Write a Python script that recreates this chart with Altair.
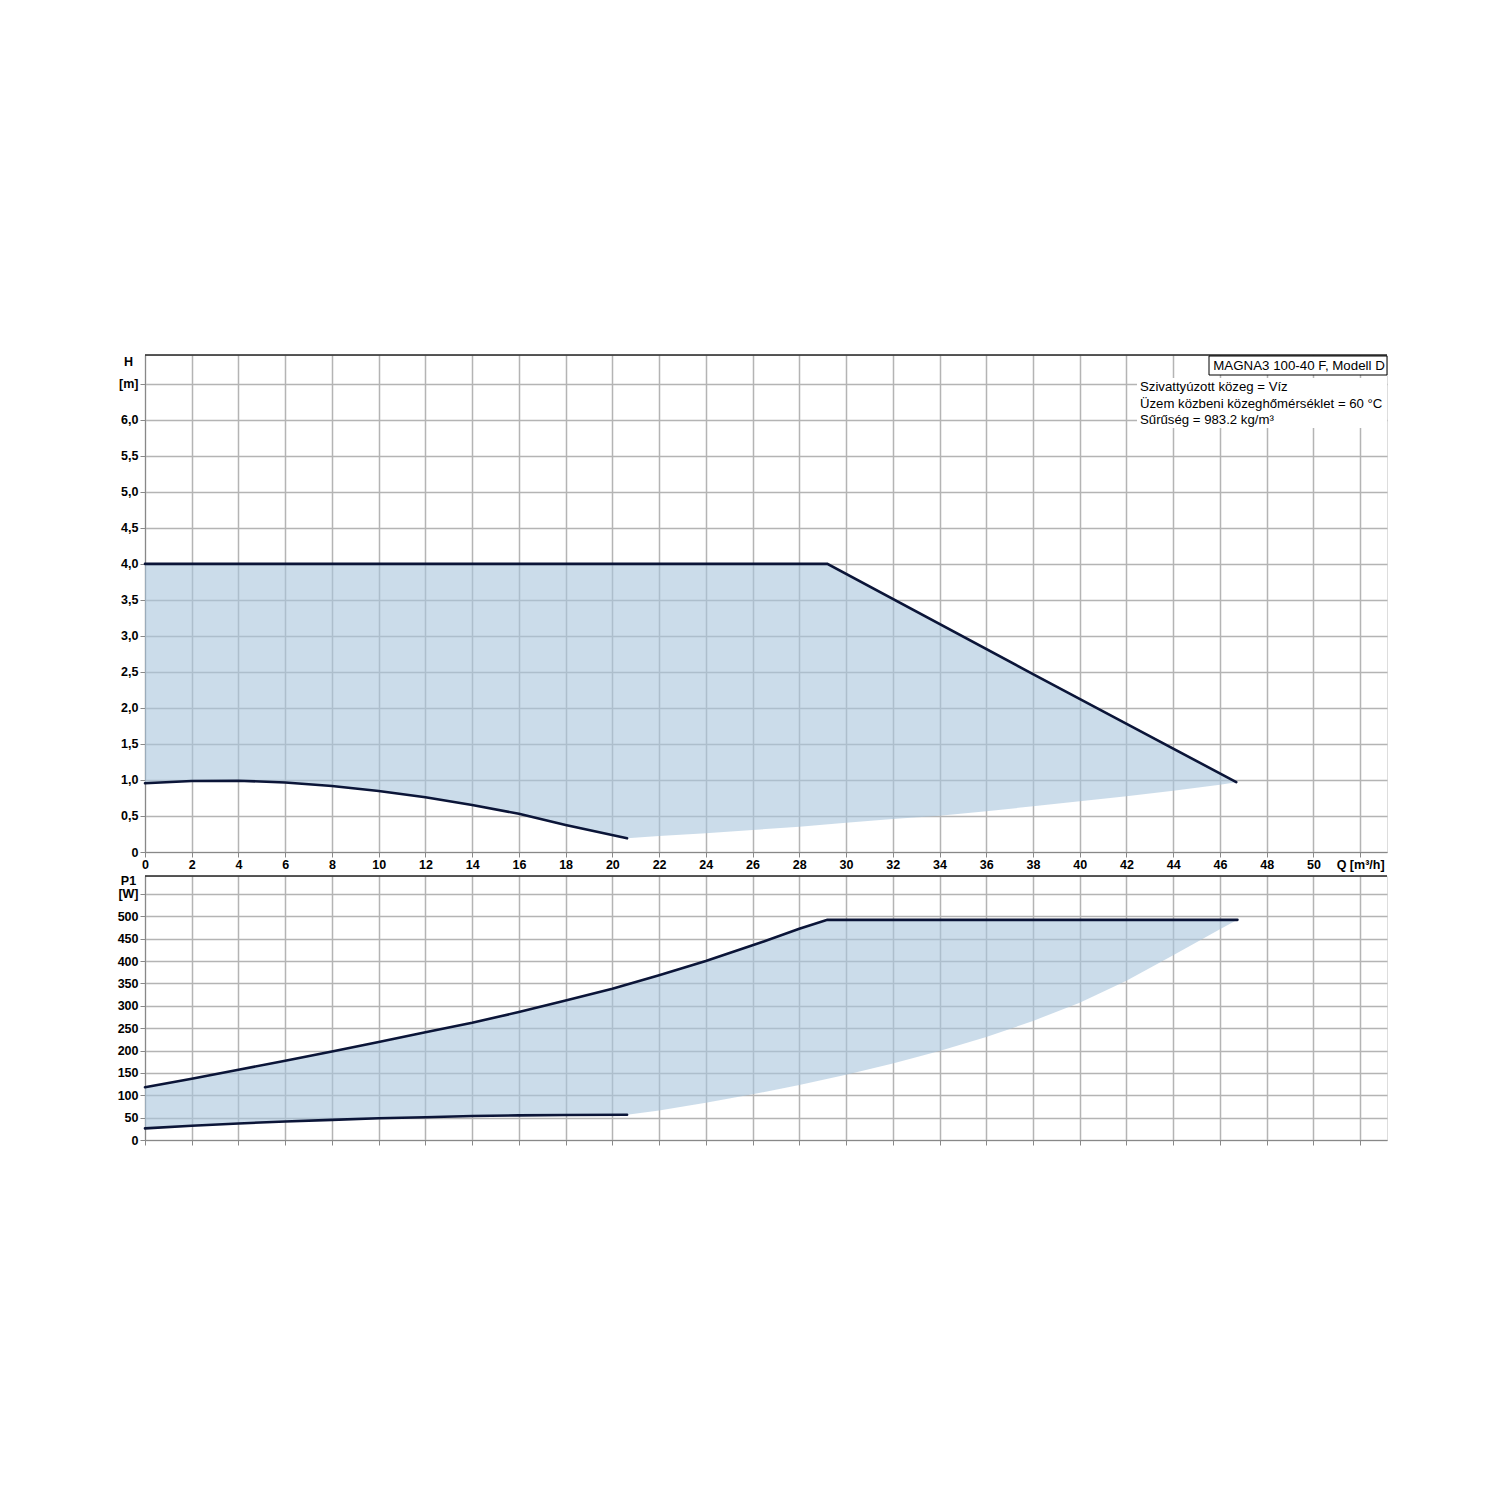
import altair as alt
import pandas as pd

# ---------------- data ----------------
Q_TICKS = list(range(0, 53, 2))
H_TICKS = [i / 2 for i in range(0, 14)]   # 0 .. 6.5
P_TICKS = list(range(0, 551, 50))         # 0 .. 550

# Top panel: head H [m] vs flow Q [m3/h]
h_max_q = [0, 29.2, 38.0, 46.7]
h_max_h = [4.0, 4.0, 2.47, 0.97]
h_min_q = [0, 2, 4, 6, 8, 10, 12, 14, 16, 18, 20.63]
h_min_h = [0.954, 0.986, 0.99, 0.965, 0.917, 0.847, 0.76, 0.653, 0.53, 0.375, 0.19]
h_edge_q = [20.63, 22, 24, 26, 28, 30, 32, 34, 36, 38, 40, 42, 44, 46, 46.7]
h_edge_h = [0.19, 0.222, 0.259, 0.306, 0.352, 0.407, 0.458, 0.505, 0.565, 0.635,
            0.705, 0.775, 0.85, 0.935, 0.97]

# Bottom panel: power P1 [W] vs flow Q [m3/h]
p_max_q = [0, 2, 4, 6, 8, 10, 12, 14, 16, 18, 20, 22, 24, 26, 28, 29.2, 46.75]
p_max_p = [118, 137, 157, 177, 198, 219, 241, 262, 286, 312, 338, 368, 400, 435, 472, 492, 492]
p_min_q = [0, 2, 4, 6, 8, 10, 12, 14, 16, 18, 20.63]
p_min_p = [26, 32, 37, 41.5, 45, 48.5, 51, 53.5, 55, 56, 56.5]
p_edge_q = [20.63, 22, 24, 26, 28, 30, 32, 34, 36, 38, 40, 42, 44, 46, 46.75]
p_edge_p = [56.5, 66, 83, 102, 123, 146, 171, 199, 230, 266, 307, 356, 413, 471, 492]

title_box = "MAGNA3 100-40 F, Modell D"
info_lines = [
    "Szivattyúzott közeg = Víz",
    "Üzem közbeni közeghőmérséklet = 60 °C",
    "Sűrűség = 983.2 kg/m³",
]

# ---------------- helpers ----------------
FONT = "Liberation Sans"
FILL = "#a9c4dc"
LINE = "#0b1538"
GRID = "#b4b4b4"
W = 1242
H_TOP = 497
H_BOT = 264
Q_DOMAIN = [0, 53.15]
LBL = 12.5


def polygon(upper_q, upper_v, lower_parts):
    qs, vs = list(upper_q), list(upper_v)
    for q, v in lower_parts:
        qs += list(reversed(q))
        vs += list(reversed(v))
    return pd.DataFrame({"Q": qs, "v": vs, "o": list(range(len(qs)))})


def lines_df(parts):
    rows = []
    for name, q, v in parts:
        for a, b in zip(q, v):
            rows.append({"Q": a, "v": b, "s": name})
    return pd.DataFrame(rows)


def x_enc(show_labels):
    return alt.X(
        "Q:Q",
        scale=alt.Scale(domain=Q_DOMAIN, nice=False, zero=False),
        axis=alt.Axis(
            values=Q_TICKS,
            labels=show_labels,
            labelExpr="datum.value == 52 ? 'Q [m³/h]' : datum.label",
            labelFlush=False,
            grid=True,
            gridColor=GRID,
            gridWidth=1.5,
            title=None,
            labelPadding=1,
            labelFont=FONT,
            labelFontSize=LBL,
            labelFontWeight="bold",
            labelColor="black",
        ),
    )


def y_enc(domain, ticks, title, unit_val, unit_txt, fmt_expr, title_y):
    return alt.Y(
        "v:Q",
        scale=alt.Scale(domain=domain, nice=False, zero=False),
        axis=alt.Axis(
            values=ticks,
            labelExpr=f"datum.value == {unit_val} ? '{unit_txt}' : {fmt_expr}",
            grid=True,
            gridColor=GRID,
            gridWidth=1.5,
            title=title,
            titleAngle=0,
            titleAlign="center",
            titleBaseline="middle",
            titleX=-17,
            titleY=title_y,
            titleFont=FONT,
            titleFontSize=LBL,
            titleFontWeight="bold",
            titleColor="black",
            labelPadding=2,
            labelFont=FONT,
            labelFontSize=LBL,
            labelFontWeight="bold",
            labelColor="black",
        ),
    )


one = pd.DataFrame({"a": [0]})


def panel(poly, lines, y, show_x_labels):
    xe = x_enc(show_x_labels)
    fill = alt.Chart(poly).mark_line(
        fill=FILL, fillOpacity=0.6, strokeOpacity=0, interpolate="linear"
    ).encode(x=xe, y=y, order="o:Q")
    curves = alt.Chart(lines).mark_line(
        color=LINE, strokeWidth=2.6, strokeCap="round"
    ).encode(x=xe, y=y, detail="s:N")
    top_border = alt.Chart(one).mark_rule(color="#222222", strokeWidth=1.5).encode(
        x=alt.value(0), x2=alt.value(W), y=alt.value(0)
    )
    return [fill, curves, top_border]


# ---------------- top panel ----------------
h_poly = polygon(h_max_q, h_max_h, [(h_edge_q, h_edge_h), (h_min_q, h_min_h)])
h_lines = lines_df([("max", h_max_q, h_max_h), ("min", h_min_q, h_min_h)])
y_top = y_enc([0, 6.9], H_TICKS, "H", 6.5, "[m]",
              "(datum.value == 0 ? '0' : replace(format(datum.value, '.1f'), '.', ','))", 6)
top_layers = panel(h_poly, h_lines, y_top, True)

info_bg = alt.Chart(one).mark_rect(color="white").encode(
    x=alt.value(992), x2=alt.value(W), y=alt.value(23), y2=alt.value(73)
)
box = alt.Chart(one).mark_rect(fill="white", stroke="black", strokeWidth=1).encode(
    x=alt.value(1064), x2=alt.value(W), y=alt.value(1), y2=alt.value(20)
)
box_txt = alt.Chart(one).mark_text(
    text=title_box, font=FONT, fontSize=13.3, align="center", baseline="middle", color="black"
).encode(x=alt.value(1154), y=alt.value(10.5))
info_layers = []
for i, line in enumerate(info_lines):
    info_layers.append(
        alt.Chart(one).mark_text(
            text=line, font=FONT, fontSize=13.2, align="left", baseline="middle", color="black"
        ).encode(x=alt.value(995), y=alt.value(32 + i * 16.5))
    )

top = alt.layer(*top_layers, info_bg, box, box_txt, *info_layers).properties(
    width=W, height=H_TOP
)

# ---------------- bottom panel ----------------
p_poly = polygon(p_max_q, p_max_p, [(p_edge_q, p_edge_p), (p_min_q, p_min_p)])
p_lines = lines_df([("max", p_max_q, p_max_p), ("min", p_min_q, p_min_p)])
y_bot = y_enc([0, 590], P_TICKS, "P1", 550, "[W]", "datum.label", 4)
bottom = alt.layer(*panel(p_poly, p_lines, y_bot, False)).properties(width=W, height=H_BOT)

chart = (
    alt.vconcat(top, bottom, spacing=2)
    .resolve_scale(x="independent", y="independent")
    .properties(padding={"left": 108, "top": 345, "right": 10, "bottom": 10})
    .configure_view(stroke="#9a9a9a", strokeWidth=1)
    .configure_axis(
        domainColor="black",
        domainWidth=2,
        tickColor="black",
        tickWidth=1.5,
        tickSize=5,
    )
    .configure(background="white")
)

chart.save("out.html", embed_options={"renderer": "svg", "actions": False})
